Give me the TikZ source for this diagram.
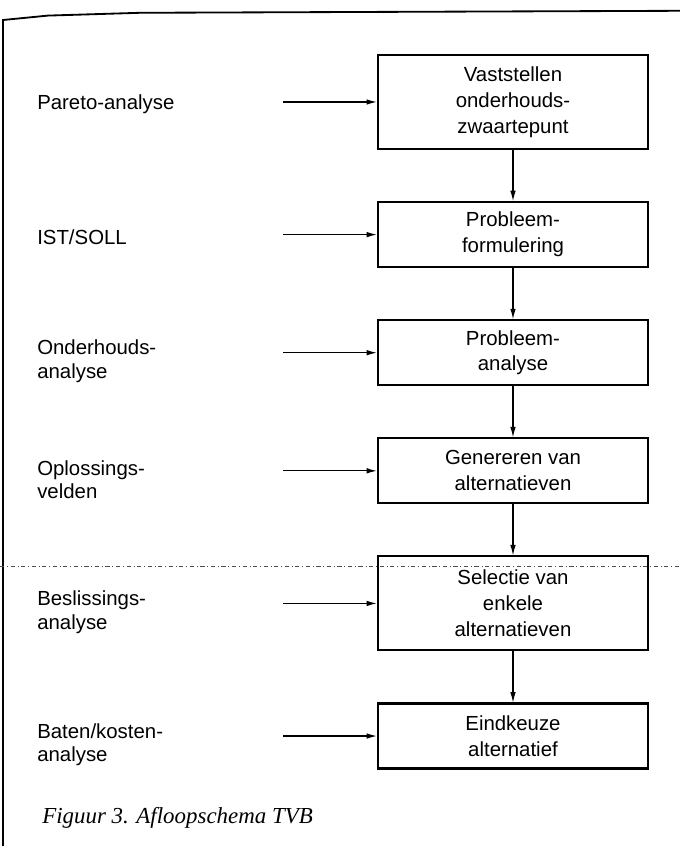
\documentclass[tikz,border=0pt]{standalone}
\usepackage{fontspec}
\setmainfont{Liberation Serif}
\setsansfont{Liberation Sans}
\usetikzlibrary{positioning,arrows.meta}

\begin{document}
\begin{tikzpicture}[
    >={Latex[length=2.6mm,width=1.4mm]},
    node distance=1.275cm,
    stepbox/.style={
        rectangle, draw, line width=1.5pt, minimum width=6.75cm,
        minimum height=1.625cm, align=center,
        font=\sffamily\fontsize{14.5}{18.4}\selectfont
    },
    tallbox/.style={stepbox, minimum height=2.35cm},
    method/.style={
        anchor=west, align=left, inner sep=0pt, yshift=-0.06cm,
        font=\sffamily\fontsize{14.5}{16.8}\selectfont
    },
    twoline/.style={method, yshift=-0.16cm},
    caption/.style={anchor=west, inner sep=0pt,
        font=\itshape\fontsize{16.3}{20}\selectfont},
    flow/.style={->, line width=0.8pt},
    feed/.style={->, line width=0.9pt},
]
\useasboundingbox (0,0) rectangle (17,21.15);

% Frame and fold line
\draw[line width=1.3pt, line join=miter] (0.075,0) -- (0.075,20.65)
    -- (1.2,20.76) -- (3.5,20.83) -- (17,20.88);
\draw[gray!60!black, line width=0.5pt, dash dot] (0,7) -- (17,7);

% Steps
\node[tallbox] (vast) at (12.825,18.6) {Vaststellen\\onderhouds-\\zwaartepunt};
\node[stepbox, below=of vast] (form) {Probleem-\\formulering};
\node[stepbox, below=of form] (anal) {Probleem-\\analyse};
\node[stepbox, below=of anal] (gen) {Genereren van\\alternatieven};
\node[tallbox, below=of gen] (sel) {Selectie van\\enkele\\alternatieven};
\node[stepbox, below=of sel] (eind) {Eindkeuze\\alternatief};

% Methods
\coordinate (mx) at (0.925,0);
\coordinate (ax) at (7.075,0);
\node[method] (pareto) at (mx |- vast.west) {Pareto-analyse};
\node[method] (istsoll) at (mx |- form.west) {IST/SOLL};
\node[twoline] (onder) at (mx |- anal.west) {Onderhouds-\\analyse};
\node[twoline] (oplos) at (mx |- gen.west) {Oplossings-\\velden};
\node[twoline] (besl) at (mx |- sel.west) {Beslissings-\\analyse};
\node[twoline] (baten) at (mx |- eind.west) {Baten/kosten-\\analyse};

% Step edges
\draw[flow] (vast) -- (form);
\draw[flow] (form) -- (anal);
\draw[flow] (anal) -- (gen);
\draw[flow] (gen) -- (sel);
\draw[flow] (sel) -- (eind);

% Method edges
\draw[feed] (ax |- vast.west) -- (vast.west);
\draw[feed] (ax |- form.west) -- (form.west);
\draw[feed] (ax |- anal.west) -- (anal.west);
\draw[feed] (ax |- gen.west) -- (gen.west);
\draw[feed] (ax |- sel.west) -- (sel.west);
\draw[feed] (ax |- eind.west) -- (eind.west);

% Caption
\node[caption] (cap) at (1.05,0.7) {Figuur 3. Afloopschema TVB};

\end{tikzpicture}
\end{document}
